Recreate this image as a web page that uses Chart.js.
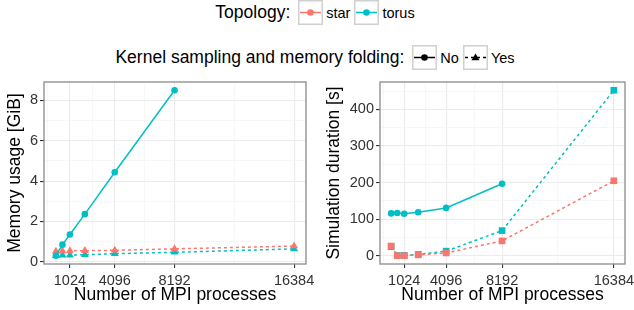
<!DOCTYPE html>
<html>
<head>
<meta charset="utf-8">
<script src="https://cdn.jsdelivr.net/npm/chart.js@4.4.0/dist/chart.umd.min.js"></script>
<style>
  html, body { margin: 0; padding: 0; background: #fff; }
  body { width: 634px; height: 310px; position: relative; overflow: hidden;
         font-family: "Liberation Sans", Arial, Helvetica, sans-serif; color: #000; }
  .legend-row { position: absolute; left: 0; width: 634px; height: 25px;
                display: flex; justify-content: center; align-items: center; }
  .legend-title { font-size: 17.5px; margin-right: 8px; }
  .key { width: 25px; height: 25px; display: block; }
  .key-label { font-size: 14.5px; margin: 0 4px 0 3px; }
  canvas { position: absolute; top: 80px; }
</style>
</head>
<body>

<div class="legend-row" style="top:0px">
  <span class="legend-title">Topology:</span>
  <svg class="key" viewBox="0 0 25 25"><rect x="0.75" y="0.75" width="23.5" height="23.5" fill="#fff" stroke="#d0d0d0" stroke-width="1.5"/><line x1="2" y1="12.5" x2="23" y2="12.5" stroke="#F8766D" stroke-width="1.5"/><circle cx="12.5" cy="12.5" r="3.3" fill="#F8766D"/></svg>
  <span class="key-label">star</span>
  <svg class="key" viewBox="0 0 25 25"><rect x="0.75" y="0.75" width="23.5" height="23.5" fill="#fff" stroke="#d0d0d0" stroke-width="1.5"/><line x1="2" y1="12.5" x2="23" y2="12.5" stroke="#00BFC4" stroke-width="1.5"/><circle cx="12.5" cy="12.5" r="3.3" fill="#00BFC4"/></svg>
  <span class="key-label">torus</span>
</div>

<div class="legend-row" style="top:45px">
  <span class="legend-title">Kernel sampling and memory folding:</span>
  <svg class="key" viewBox="0 0 25 25"><rect x="0.75" y="0.75" width="23.5" height="23.5" fill="#fff" stroke="#d0d0d0" stroke-width="1.5"/><line x1="2" y1="12.5" x2="23" y2="12.5" stroke="#000" stroke-width="1.5"/><circle cx="12.5" cy="12.5" r="3.3" fill="#000"/></svg>
  <span class="key-label">No</span>
  <svg class="key" viewBox="0 0 25 25"><rect x="0.75" y="0.75" width="23.5" height="23.5" fill="#fff" stroke="#d0d0d0" stroke-width="1.5"/><line x1="2" y1="12.5" x2="23" y2="12.5" stroke="#000" stroke-width="1.5" stroke-dasharray="3,3"/><polygon points="12.5,8.5 16.5,15.3 8.5,15.3" fill="#000"/></svg>
  <span class="key-label">Yes</span>
</div>

<canvas id="memChart" width="317" height="230" style="left:0px"></canvas>
<canvas id="timeChart" width="317" height="230" style="left:317px"></canvas>

<script>
// ---- data ----
const procs = [64, 512, 1024, 2048, 4096, 8192, 16384];
const procsNoFolding = [64, 512, 1024, 2048, 4096, 8192];

const xMajor = [1024, 4096, 8192, 16384];
const xMinor = [-512, 2560, 6144, 12288];

// memory usage [GiB]
const memTorusNo = [0.3, 0.85, 1.35, 2.36, 4.44, 8.5];
const memStarYes = [0.52, 0.53, 0.54, 0.55, 0.57, 0.64, 0.78];
const memTorusYes = [0.3, 0.32, 0.33, 0.35, 0.4, 0.47, 0.64];
const memMajor = [0, 2, 4, 6, 8];
const memMinor = [1, 3, 5, 7];

// simulation duration [s]
const timeTorusNo = [116, 117, 115, 119, 131, 197];
const timeStarYes = [27, 0.5, 0.5, 3, 8, 41, 205];
const timeTorusYes = [25, 1, 1.5, 4, 13, 69, 452];
const timeMajor = [0, 100, 200, 300, 400];
const timeMinor = [50, 150, 250, 350, 450];

const STAR = '#F8766D';
const TORUS = '#00BFC4';
const FONT = '"Liberation Sans", Arial, Helvetica, sans-serif';

Chart.defaults.font.family = FONT;

function pts(xs, ys) {
    return xs.map((x, i) => ({ x: x, y: ys[i] }));
}

// ggplot-style 5% expansion of the data range
function expand(values) {
    const lo = Math.min(...values), hi = Math.max(...values);
    const pad = (hi - lo) * 0.05;
    return { min: lo - pad, max: hi + pad };
}

function gridScale(major, minor, range, title, titlePad, fixedSize, tickPad) {
    const all = major.concat(minor).sort((a, b) => a - b);
    const isMajor = v => major.includes(v);
    return {
        type: 'linear',
        min: range.min,
        max: range.max,
        afterBuildTicks: s => { s.ticks = all.map(v => ({ value: v })); },
        afterFit: s => {
            if (s.isHorizontal()) s.height = fixedSize; else s.width = fixedSize;
            // no automatic padding for overflowing labels
            s.paddingTop = 0; s.paddingBottom = 0;
            s.paddingLeft = 0; s.paddingRight = 0;
        },
        ticks: {
            autoSkip: false,
            maxRotation: 0,
            padding: tickPad,
            color: '#333',
            font: { size: 14.5 },
            callback: v => isMajor(v) ? String(v) : ''
        },
        grid: {
            color: c => (c.tick && isMajor(c.tick.value)) ? '#ebebeb' : '#f4f4f4',
            lineWidth: c => (c.tick && isMajor(c.tick.value)) ? 1.1 : 0.7,
            tickColor: c => (c.tick && isMajor(c.tick.value)) ? '#333' : 'rgba(0,0,0,0)',
            tickWidth: 1.1,
            tickLength: 4,
            drawTicks: true
        },
        border: { display: false },
        title: {
            display: true,
            text: title,
            color: '#000',
            font: { size: 17.5 },
            padding: titlePad
        }
    };
}

const panelBorder = {
    id: 'panelBorder',
    afterDraw(chart) {
        const a = chart.chartArea, ctx = chart.ctx;
        ctx.save();
        ctx.strokeStyle = '#8a8a8a';
        ctx.lineWidth = 1.3;
        ctx.strokeRect(a.left, a.top, a.right - a.left, a.bottom - a.top);
        ctx.restore();
    }
};

function lineSet(data, color, dashed, shape, radius) {
    return {
        data: data,
        borderColor: color,
        backgroundColor: color,
        borderWidth: 1.5,
        borderDash: dashed ? [3, 3] : [],
        pointStyle: shape,
        pointRadius: radius,
        pointHoverRadius: radius,
        pointBorderWidth: 0,
        tension: 0
    };
}

function makeChart(id, datasets, yMajor, yMinor, yValues, yTitle, yAxisWidth, yTitlePad, padRight) {
    const ctx = document.getElementById(id).getContext('2d');
    return new Chart(ctx, {
        type: 'line',
        data: { datasets: datasets },
        options: {
            responsive: false,
            animation: false,
            events: [],
            layout: { autoPadding: false, padding: { top: 2, right: padRight, left: 0, bottom: 0 } },
            plugins: { legend: { display: false }, tooltip: { enabled: false } },
            scales: {
                x: gridScale(xMajor, xMinor, expand(procs), 'Number of MPI processes', { top: 0, bottom: 4 }, 46, 4),
                y: gridScale(yMajor, yMinor, expand(yValues), yTitle, yTitlePad, yAxisWidth, 2)
            }
        },
        plugins: [panelBorder]
    });
}

document.addEventListener('DOMContentLoaded', function() {
    makeChart('memChart', [
        lineSet(pts(procsNoFolding, memTorusNo), TORUS, false, 'circle', 3.3),
        lineSet(pts(procs, memStarYes), STAR, true, 'triangle', 4.6),
        lineSet(pts(procs, memTorusYes), TORUS, true, 'triangle', 4.6)
    ], memMajor, memMinor, memTorusNo.concat(memStarYes, memTorusYes),
       'Memory usage [GiB]', 44, { top: 5, bottom: 0 }, 11);

    makeChart('timeChart', [
        lineSet(pts(procsNoFolding, timeTorusNo), TORUS, false, 'circle', 3.3),
        lineSet(pts(procs, timeStarYes), STAR, true, 'rect', 4.7),
        lineSet(pts(procs, timeTorusYes), TORUS, true, 'rect', 4.7)
    ], timeMajor, timeMinor, timeTorusNo.concat(timeStarYes, timeTorusYes),
       'Simulation duration [s]', 63, { top: 7, bottom: 0 }, 9);
});
</script>
</body>
</html>
